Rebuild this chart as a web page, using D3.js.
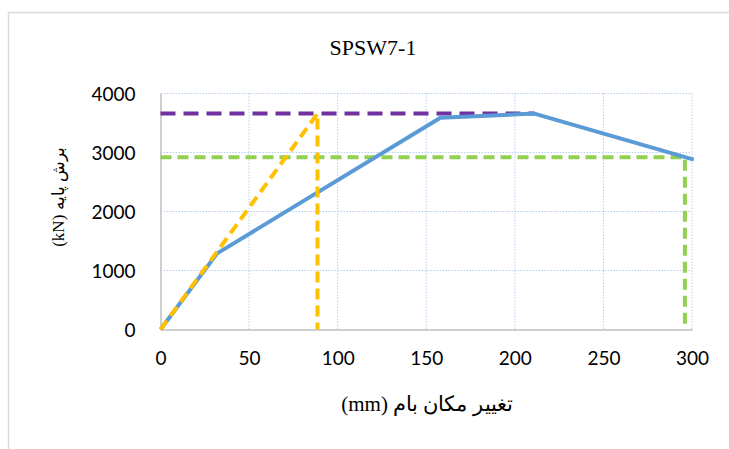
<!DOCTYPE html>
<html>
<head>
<meta charset="utf-8">
<script src="https://cdn.jsdelivr.net/npm/d3@7"></script>
<style>
  body { margin: 0; background: #fff; }
</style>
</head>
<body>
<div id="chart-area"></div>
<script>
// pushover curve and bilinear idealisation
const curveX = [0, 32, 158, 211, 301];
const curveY = [0, 1290, 3590, 3660, 2880];
const yieldX = [0, 88.6, 88.6];
const yieldY = [0, 3660, 0];
const peakX = [0, 211];
const peakY = [3660, 3660];
const ultX = [0, 296, 296];
const ultY = [2920, 2920, 0];

const xTicks = [0, 50, 100, 150, 200, 250, 300];
const yTicks = [0, 1000, 2000, 3000, 4000];

const title = "SPSW7-1";
const xLabel = "تغییر مکان بام (mm)";
const yLabel = "برش پایه (kN)";

const W = 729, H = 449;
const MARGIN = { LEFT: 160.5, RIGHT: 37, TOP: 93.5, BOTTOM: 119.5 };
const WIDTH = W - MARGIN.LEFT - MARGIN.RIGHT;
const HEIGHT = H - MARGIN.TOP - MARGIN.BOTTOM;

const svg = d3.select("#chart-area").append("svg")
  .attr("width", W)
  .attr("height", H);

// outer chart border (only top and left fall inside the picture)
svg.append("rect")
  .attr("x", 8.5).attr("y", 12.5)
  .attr("width", 760).attr("height", 500)
  .attr("fill", "none")
  .attr("stroke", "#d9d9d9")
  .attr("stroke-width", 1.5);

const g = svg.append("g")
  .attr("transform", `translate(${MARGIN.LEFT}, ${MARGIN.TOP})`);

const xScale = d3.scaleLinear().domain([0, 300]).range([0, WIDTH]);
const yScale = d3.scaleLinear().domain([0, 4000]).range([HEIGHT, 0]);

// grid
g.append("g").selectAll("line").data(xTicks.slice(1)).join("line")
  .attr("x1", d => xScale(d)).attr("x2", d => xScale(d))
  .attr("y1", 0).attr("y2", HEIGHT)
  .attr("stroke", "#b4cfee").attr("stroke-width", 1)
  .attr("stroke-dasharray", "1.5,1.5");
g.append("g").selectAll("line").data(yTicks.slice(1)).join("line")
  .attr("x1", 0).attr("x2", WIDTH)
  .attr("y1", d => yScale(d)).attr("y2", d => yScale(d))
  .attr("stroke", "#b4cfee").attr("stroke-width", 1)
  .attr("stroke-dasharray", "1.5,1.5");

// axes
const xAxis = g.append("g")
  .attr("transform", `translate(0, ${HEIGHT})`)
  .call(d3.axisBottom(xScale).tickValues(xTicks).tickFormat(d3.format("d")).tickSize(0).tickPadding(22));
const yAxis = g.append("g")
  .call(d3.axisLeft(yScale).tickValues(yTicks).tickFormat(d3.format("d")).tickSize(0).tickPadding(25));
[xAxis, yAxis].forEach(a => {
  a.select(".domain").attr("stroke", "#bfbfbf").attr("stroke-width", 1.5);
  a.selectAll("text")
    .attr("font-family", "Lato, 'Open Sans', sans-serif")
    .attr("font-size", 19)
    .attr("fill", "#000");
});
yAxis.selectAll("text").attr("dy", "0.36em");

const line = d3.line().x(d => xScale(d[0])).y(d => yScale(d[1]));
const pts = (xs, ys) => xs.map((x, i) => [x, ys[i]]);

g.append("path")
  .attr("fill", "none").attr("stroke", "#7030a0").attr("stroke-width", 4)
  .attr("stroke-dasharray", "15,8")
  .attr("d", line(pts(peakX, peakY)));

g.append("path")
  .attr("fill", "none").attr("stroke", "#92d050").attr("stroke-width", 4)
  .attr("stroke-dasharray", "11,6")
  .attr("d", line(pts(ultX, ultY)));

g.append("path")
  .attr("fill", "none").attr("stroke", "#5b9bd5").attr("stroke-width", 4)
  .attr("stroke-linejoin", "round")
  .attr("d", line(pts(curveX, curveY)));

g.append("path")
  .attr("fill", "none").attr("stroke", "#ffc000").attr("stroke-width", 4)
  .attr("stroke-dasharray", "11,6")
  .attr("d", line(pts(yieldX, yieldY)));

// texts
svg.append("text")
  .attr("x", 373).attr("y", 55)
  .attr("text-anchor", "middle")
  .attr("font-family", "'Liberation Serif', serif")
  .attr("font-size", 22)
  .text(title);

svg.append("text")
  .attr("x", 427).attr("y", 411)
  .attr("text-anchor", "middle")
  .attr("direction", "rtl")
  .attr("font-family", "'Liberation Serif', 'DejaVu Serif', serif")
  .attr("font-size", 21)
  .text(xLabel);

svg.append("text")
  .attr("transform", "translate(64, 197) rotate(-90)")
  .attr("text-anchor", "middle")
  .attr("direction", "rtl")
  .attr("font-family", "'Liberation Serif', 'DejaVu Serif', serif")
  .attr("font-size", 17)
  .text(yLabel);
</script>
</body>
</html>
